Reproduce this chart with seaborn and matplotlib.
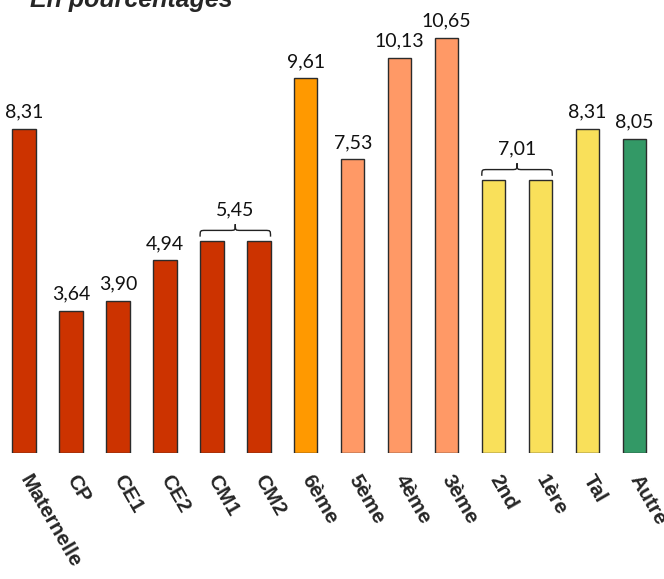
import matplotlib
matplotlib.use("Agg")
import matplotlib.pyplot as plt
from matplotlib.path import Path
from matplotlib.patches import PathPatch
import seaborn as sns
import pandas as pd

# Data
niveaux = ["Maternelle", "CP", "CE1", "CE2", "CM1", "CM2", "6ème", "5ème",
           "4ème", "3ème", "2nd", "1ère", "Tal", "Autre"]
valeurs = [8.31, 3.64, 3.90, 4.94, 5.45, 5.45, 9.61, 7.53,
           10.13, 10.65, 7.01, 7.01, 8.31, 8.05]
couleurs = ["#CC3300"] * 6 + ["#FF9900"] + ["#FF9966"] * 3 + ["#F9E05A"] * 3 + ["#339966"]
# grouped values shown once, with a brace over the pair
groupes = [(4, 5, 5.45), (10, 11, 7.01)]

df = pd.DataFrame({"niveau": niveaux, "valeur": valeurs})

sns.set_style("white")
plt.rcParams["font.family"] = ["Liberation Sans", "DejaVu Sans"]
VALUE_FONT = ["Lato", "DejaVu Sans"]

fig = plt.figure(figsize=(6.64, 5.79), dpi=100)
ax = fig.add_axes([0.0008, (579 - 453) / 579, 0.99, 453 / 579])

sns.barplot(data=df, x="niveau", y="valeur", hue="niveau", palette=couleurs,
            legend=False, width=0.5, edgecolor="#2b2b2b", linewidth=1.0,
            saturation=1, ax=ax)

ax.set_ylim(0, 11.62)
ax.set_xlim(-0.5, len(niveaux) - 0.5)
ax.set_xlabel("")
ax.set_ylabel("")
ax.set_yticks([])
for s in ax.spines.values():
    s.set_visible(False)

def fmt(v):
    return f"{v:.2f}".replace(".", ",")

grouped = {i for a, b, _ in groupes for i in (a, b)}
for i, v in enumerate(valeurs):
    if i in grouped:
        continue
    ax.annotate(fmt(v), (i, v), xytext=(0, 6), textcoords="offset points",
                ha="center", va="bottom", fontsize=14, color="#111111",
                family=VALUE_FONT)

# braces over grouped bars
for a, b, v in groupes:
    x0, x1 = a - 0.25, b + 0.25
    xm = (x0 + x1) / 2
    y0, y1, yc = v + 0.1, v + 0.26, v + 0.42
    r = 0.12
    verts = [
        (x0, y0), (x0, y1), (x0, y1), (x0 + r, y1),
        (xm - r, y1),
        (xm, y1), (xm, y1), (xm, yc),
        (xm, y1), (xm, y1), (xm + r, y1),
        (x1 - r, y1),
        (x1, y1), (x1, y1), (x1, y0),
    ]
    codes = [Path.MOVETO, Path.CURVE4, Path.CURVE4, Path.CURVE4,
             Path.LINETO,
             Path.CURVE4, Path.CURVE4, Path.CURVE4,
             Path.CURVE4, Path.CURVE4, Path.CURVE4,
             Path.LINETO,
             Path.CURVE4, Path.CURVE4, Path.CURVE4]
    ax.add_patch(PathPatch(Path(verts, codes), fill=False, lw=1.0,
                           edgecolor="#222222"))
    ax.annotate(fmt(v), (xm, yc), xytext=(0, 4), textcoords="offset points",
                ha="center", va="bottom", fontsize=14, color="#111111",
                family=VALUE_FONT)

ax.tick_params(axis="x", length=0, pad=17)
ax.set_xticks(range(len(niveaux)))
ax.set_xticklabels(niveaux, rotation=-60, ha="left", va="center",
                   rotation_mode="anchor", fontsize=15, fontweight="bold")

fig.text(0.045, 1 - 7 / 579, "En pourcentages", fontsize=18, fontweight="bold",
         fontstyle="italic", ha="left", va="baseline")

fig.savefig("out.png", dpi=100)
